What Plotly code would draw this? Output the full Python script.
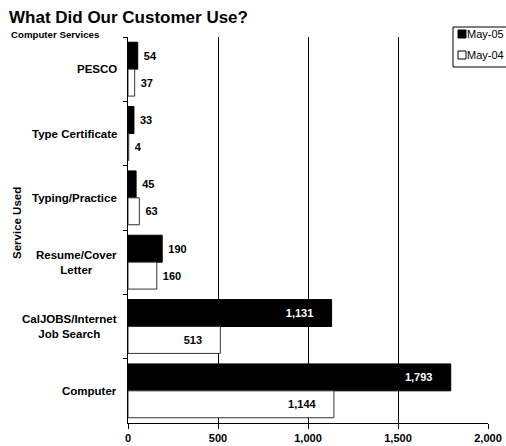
import plotly.graph_objects as go

categories = ["PESCO", "Type Certificate", "Typing/Practice",
              "Resume/Cover<br>Letter", "CalJOBS/Internet<br>Job Search", "Computer"]
may05 = [54, 33, 45, 190, 1131, 1793]
may04 = [37, 4, 63, 160, 513, 1144]
series_names = ["May-05", "May-04"]
x_ticks = [0, 500, 1000, 1500, 2000]

FONT = "Liberation Sans, Arial, sans-serif"
W, H = 506, 446
L, R, T, B = 128, 18, 37, 23
PW, PH = W - L - R, H - T - B


def px(x):
    return (x - L) / PW


def py(y):
    return (H - B - y) / PH


def labels(vals):
    txt, pos = [], []
    for v in vals:
        if v >= 500:
            txt.append(f"{v:,}" + "\u00a0" * 5)
            pos.append("inside")
        else:
            txt.append("\u00a0" + f"{v:,}")
            pos.append("outside")
    return txt, pos


t05, p05 = labels(may05)
t04, p04 = labels(may04)

fig = go.Figure()
fig.add_trace(go.Bar(
    y=categories, x=may05, orientation="h", name=series_names[0],
    marker=dict(color="black", line=dict(color="black", width=1)),
    text=t05, textposition=p05, insidetextanchor="end", textangle=0,
    insidetextfont=dict(family=FONT, size=11, color="white", weight="bold"),
    outsidetextfont=dict(family=FONT, size=11, color="black", weight="bold"),
    cliponaxis=False, showlegend=False,
))
fig.add_trace(go.Bar(
    y=categories, x=may04, orientation="h", name=series_names[1],
    marker=dict(color="white", line=dict(color="#333333", width=1)),
    text=t04, textposition=p04, insidetextanchor="end", textangle=0,
    insidetextfont=dict(family=FONT, size=11, color="black", weight="bold"),
    outsidetextfont=dict(family=FONT, size=11, color="black", weight="bold"),
    cliponaxis=False, showlegend=False,
))

annotations = []
for c in categories:
    annotations.append(dict(
        x=0, xref="paper", y=c, yref="y", xanchor="right", yanchor="middle",
        xshift=-9, text=f"<b>{c}</b>", showarrow=False, align="center",
        font=dict(family=FONT, size=11.5, color="black")))

annotations.append(dict(
    x=px(7), xref="paper", y=py(17), yref="paper", xanchor="left", yanchor="middle",
    text="<b>What Did Our Customer Use?</b>", showarrow=False,
    font=dict(family=FONT, size=17, color="black")))
annotations.append(dict(
    x=px(9), xref="paper", y=py(35), yref="paper", xanchor="left", yanchor="middle",
    text="<b>Computer Services</b>", showarrow=False,
    font=dict(family=FONT, size=9.7, color="black")))
annotations.append(dict(
    x=px(17), xref="paper", y=py(223), yref="paper", xanchor="center", yanchor="middle",
    text="<b>Service Used</b>", textangle=-90, showarrow=False,
    font=dict(family=FONT, size=11.5, color="black")))

# custom legend
shapes = [
    dict(type="rect", xref="paper", yref="paper", x0=px(453), x1=px(530),
         y0=py(67), y1=py(27), fillcolor="white", line=dict(color="black", width=1),
         layer="above"),
    dict(type="rect", xref="paper", yref="paper", x0=px(458), x1=px(466),
         y0=py(38), y1=py(30), fillcolor="black", line=dict(color="black", width=1),
         layer="above"),
    dict(type="rect", xref="paper", yref="paper", x0=px(458), x1=px(466),
         y0=py(59), y1=py(51), fillcolor="white", line=dict(color="black", width=1),
         layer="above"),
]
for name, yy in zip(series_names, [34, 55]):
    annotations.append(dict(
        x=px(465), xref="paper", y=py(yy), yref="paper", xanchor="left", yanchor="middle",
        text=name, showarrow=False, font=dict(family=FONT, size=11, color="black")))

fig.update_layout(
    width=W, height=H,
    margin=dict(l=L, r=R, t=T, b=B, pad=0, autoexpand=False),
    paper_bgcolor="white", plot_bgcolor="white",
    barmode="group", bargap=0.163, bargroupgap=0,
    font=dict(family=FONT, color="black"),
    annotations=annotations, shapes=shapes,
    showlegend=False,
)
fig.update_xaxes(
    range=[0, 2000], tickvals=x_ticks, tickformat=",", automargin=False,
    showgrid=True, gridcolor="black", gridwidth=1, zeroline=False,
    showline=True, linecolor="black", linewidth=1,
    ticks="outside", ticklen=5, tickcolor="black",
    tickfont=dict(family=FONT, size=11, color="black", weight="bold"),
)
fig.update_yaxes(
    autorange="reversed", showticklabels=False, automargin=False,
    showline=True, linecolor="black", linewidth=1,
    ticks="outside", ticklen=4, tickcolor="black", tickson="boundaries",
    showgrid=False, zeroline=False,
)

fig.write_html("out.html", config={"displayModeBar": False},
               post_script="document.body.style.margin='0';document.body.style.overflow='hidden';")
